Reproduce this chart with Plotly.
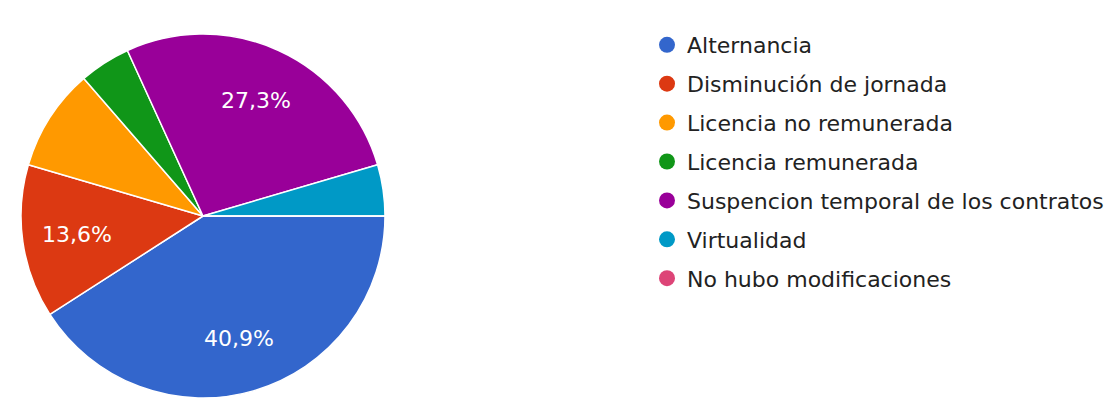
import math
import plotly.graph_objects as go

# Response counts per category
categories = [
    "Alternancia",
    "Disminución de jornada",
    "Licencia no remunerada",
    "Licencia remunerada",
    "Suspencion temporal de los contratos",
    "Virtualidad",
    "No hubo modificaciones",
]
counts = [9, 3, 2, 1, 6, 1, 0]
colors = ["#3366cc", "#dc3912", "#ff9900", "#109618", "#990099", "#0099c6", "#dd4477"]

W, H = 1113, 401
FONT = "DejaVu Sans, Liberation Sans, Arial, sans-serif"

# Pie placement in pixels
CX, CY, R = 203, 216, 182
LABEL_R = 0.70  # fraction of radius where the percent labels sit

fig = go.Figure()

fig.add_trace(go.Pie(
    labels=categories,
    values=counts,
    textinfo="none",
    marker=dict(colors=colors, line=dict(color="white", width=1.5)),
    sort=False,
    direction="clockwise",
    rotation=90,
    showlegend=False,
    hoverinfo="label+percent",
    domain=dict(x=[(CX - R) / W, (CX + R) / W],
                y=[1 - (CY + R) / H, 1 - (CY - R) / H]),
))

# Percent labels on the larger slices, placed at each slice's mid angle
total = sum(counts)
cum = 0
for c in counts:
    frac = c / total
    mid = cum + frac / 2
    cum += frac
    if frac < 0.12:
        continue
    ang = 2 * math.pi * mid  # clockwise from 3 o'clock
    px = CX + LABEL_R * R * math.cos(ang)
    py = CY + LABEL_R * R * math.sin(ang)
    fig.add_annotation(
        x=px / W, y=1 - py / H, xref="paper", yref="paper",
        xanchor="center", yanchor="middle",
        text=f"{100 * frac:.1f}%".replace(".", ","),
        showarrow=False,
        font=dict(family=FONT, size=22, color="white"),
    )

# Legend entries with round markers
for name, col in zip(categories, colors):
    fig.add_trace(go.Scatter(
        x=[None], y=[None], mode="markers",
        name=name, legendgroup=name,
        marker=dict(symbol="circle", size=16, color=col),
        showlegend=True,
    ))

fig.update_layout(
    width=W, height=H,
    margin=dict(l=0, r=0, t=0, b=0),
    paper_bgcolor="white",
    plot_bgcolor="white",
    xaxis=dict(visible=False),
    yaxis=dict(visible=False),
    legend=dict(
        x=647 / W, y=1 - 24 / H, xanchor="left", yanchor="top",
        font=dict(family=FONT, size=22, color="#222222"),
        tracegroupgap=7.3,
        itemsizing="trace",
        bgcolor="rgba(0,0,0,0)",
    ),
)

fig.write_html("out.html")
